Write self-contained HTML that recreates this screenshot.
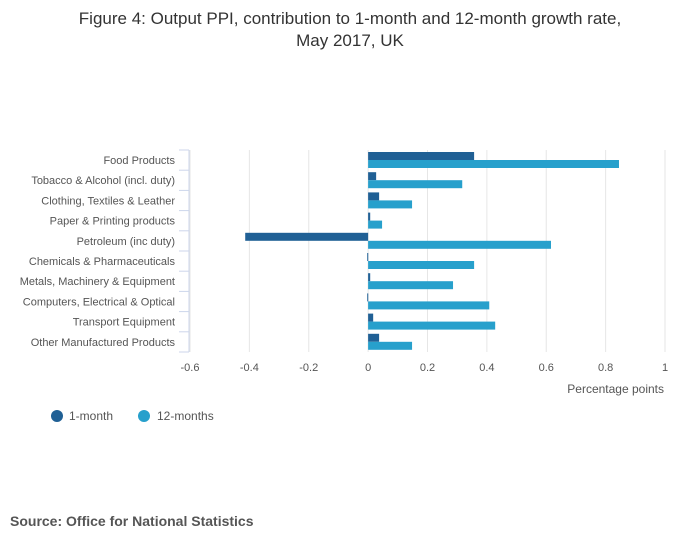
<!DOCTYPE html>
<html><head><meta charset="utf-8"><style>
body{margin:0;background:#fff;font-family:"Liberation Sans",sans-serif;}
</style></head><body>
<svg width="700" height="549" xmlns="http://www.w3.org/2000/svg" font-family="Liberation Sans, sans-serif">
<text x="350" y="24" text-anchor="middle" font-size="17" fill="#333">Figure 4: Output PPI, contribution to 1-month and 12-month growth rate,</text>
<text x="350" y="46" text-anchor="middle" font-size="17" fill="#333">May 2017, UK</text>
<g id="grid"></g><g id="bars"></g><g id="labels"></g>
<text x="664" y="393" text-anchor="end" font-size="12" fill="#555">Percentage points</text>
<circle cx="57" cy="416" r="6" fill="#206095"/>
<text x="69" y="420" font-size="12" fill="#555">1-month</text>
<circle cx="144" cy="416" r="6" fill="#27a0cc"/>
<text x="157" y="420" font-size="12" fill="#555">12-months</text>
<text x="10" y="526" font-size="14" font-weight="bold" fill="#555">Source: Office for National Statistics</text>
</svg>
<script>
const categories=["Food Products","Tobacco & Alcohol (incl. duty)","Clothing, Textiles & Leather","Paper & Printing products","Petroleum (inc duty)","Chemicals & Pharmaceuticals","Metals, Machinery & Equipment","Computers, Electrical & Optical","Transport Equipment","Other Manufactured Products"];
const oneMonth=[0.357,0.027,0.037,0.007,-0.414,-0.003,0.007,-0.003,0.017,0.037];
const twelveMonths=[0.845,0.317,0.148,0.047,0.616,0.357,0.286,0.408,0.428,0.148];
const ticks=[-0.6,-0.4,-0.2,0,0.2,0.4,0.6,0.8,1];
const tickLabels=["-0.6","-0.4","-0.2","0","0.2","0.4","0.6","0.8","1"];
const NS="http://www.w3.org/2000/svg";
const x=v=>190+(v+0.6)*(475/1.6);
const topY=150,band=20.2;
const y=i=>topY+i*band;
function mk(t,a,p){const e=document.createElementNS(NS,t);for(const k in a)e.setAttribute(k,a[k]);p.appendChild(e);return e;}
const g=document.getElementById('grid'),b=document.getElementById('bars'),l=document.getElementById('labels');
ticks.forEach((t,i)=>{
 const ln=mk('line',{x1:x(t),x2:x(t),y1:topY,y2:topY+band*categories.length,stroke:'#e6e6e6'},g);
 
 
 const tx=mk('text',{x:x(t),y:371,'text-anchor':'middle','font-size':11,fill:'#555'},l);
 tx.textContent=tickLabels[i];
 
 
});
const ax=mk('line',{x1:189,x2:189,y1:topY,y2:topY+band*categories.length,stroke:'#ccd6eb'},g);


categories.forEach((c,i)=>{
 const tk=mk('line',{x1:179,x2:189,y1:y(i),y2:y(i),stroke:'#ccd6eb'},g);
 
 
 const tx=mk('text',{x:175,y:y(i)+14,'text-anchor':'end','font-size':11,fill:'#555'},l);
 tx.textContent=c;
 
 
 const v1=oneMonth[i],v2=twelveMonths[i];
 const r1=mk('rect',{x:Math.min(x(0),x(v1)),y:y(i)+2,width:Math.max(1,Math.abs(x(v1)-x(0))),height:8,fill:'#206095'},b);
 
 
 const r2=mk('rect',{x:Math.min(x(0),x(v2)),y:y(i)+10,width:Math.max(1,Math.abs(x(v2)-x(0))),height:8,fill:'#27a0cc'},b);
 
 
});
const last=mk('line',{x1:179,x2:189,y1:y(categories.length),y2:y(categories.length),stroke:'#ccd6eb'},g);


</script>
</body></html>
